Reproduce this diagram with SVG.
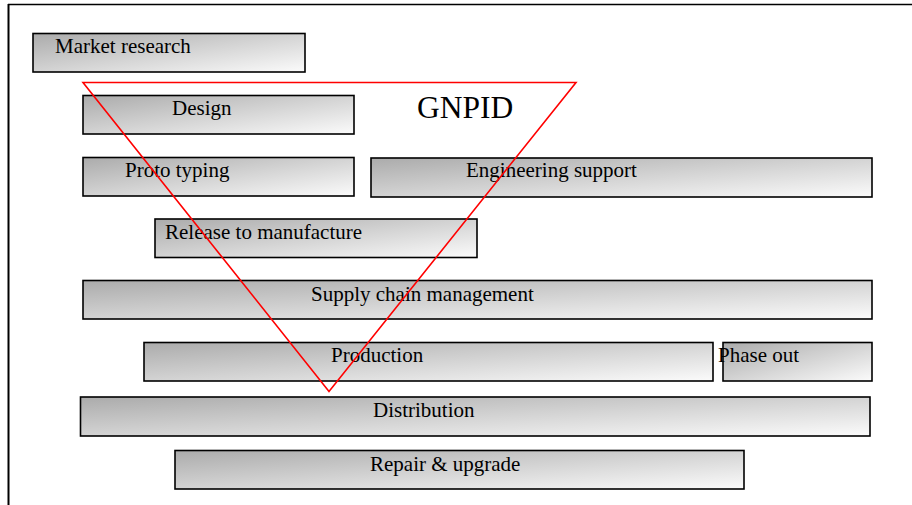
<svg xmlns="http://www.w3.org/2000/svg" width="912" height="505" viewBox="0 0 912 505">
  <defs>
    <linearGradient id="shade" x1="0" y1="0" x2="1" y2="1">
      <stop offset="0" stop-color="#ababab"/>
      <stop offset="1" stop-color="#fbfbfb"/>
    </linearGradient>
  </defs>
  <style>
    .box rect { fill: url(#shade); stroke: #000; stroke-width: 1.6; }
    .box text { font-family: "Liberation Serif", "Times New Roman", serif; font-size: 21px; fill: #000; }
    .title { font-family: "Liberation Serif", "Times New Roman", serif; font-size: 31.5px; fill: #000; }
    .frame { fill: none; stroke: #000; }
    .funnel { fill: none; stroke: #ff0000; stroke-width: 1.6; }
  </style>

  <rect width="912" height="505" fill="#fff"/>

  <!-- page frame: top edge and left edge -->
  <line class="frame" x1="8" y1="4.5" x2="912" y2="4.5" stroke-width="1.5"/>
  <line class="frame" x1="8.5" y1="4" x2="8.5" y2="505" stroke-width="2"/>

  <g id="market-research" class="box">
    <rect x="33" y="33.5" width="272" height="38.5"/>
    <text x="55" y="53">Market research</text>
  </g>
  <g id="design" class="box">
    <rect x="83" y="95.5" width="271" height="38.5"/>
    <text x="172" y="115">Design</text>
  </g>
  <g id="proto-typing" class="box">
    <rect x="83" y="157.5" width="271" height="38.5"/>
    <text x="125" y="177">Proto typing</text>
  </g>
  <g id="engineering-support" class="box">
    <rect x="371" y="158" width="501" height="39"/>
    <text x="466" y="177">Engineering support</text>
  </g>
  <g id="release-to-manufacture" class="box">
    <rect x="155" y="219" width="322" height="38.5"/>
    <text x="165" y="239">Release to manufacture</text>
  </g>
  <g id="supply-chain-management" class="box">
    <rect x="83" y="280.5" width="789" height="38.5"/>
    <text x="311" y="301">Supply chain management</text>
  </g>
  <g id="production" class="box">
    <rect x="144" y="342.5" width="569" height="38.5"/>
    <text x="331" y="362">Production</text>
  </g>
  <g id="phase-out" class="box">
    <rect x="723" y="342.5" width="149" height="38.5"/>
    <text x="718" y="362">Phase out</text>
  </g>
  <g id="distribution" class="box">
    <rect x="80.5" y="397" width="789.5" height="39"/>
    <text x="373" y="417">Distribution</text>
  </g>
  <g id="repair-upgrade" class="box">
    <rect x="175" y="450.5" width="569" height="38.5"/>
    <text x="370" y="471">Repair &amp; upgrade</text>
  </g>

  <!-- GNPID funnel overlay -->
  <g id="gnpid">
    <polygon class="funnel" points="83,82.5 576,82.5 329,391.5"/>
    <text class="title" x="417" y="118">GNPID</text>
  </g>
</svg>
